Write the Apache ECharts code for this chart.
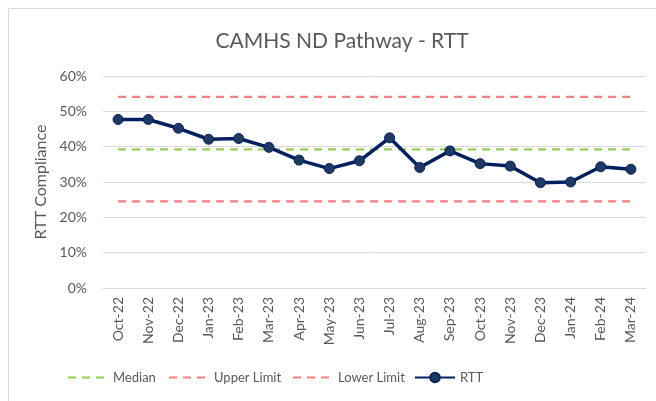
<!DOCTYPE html>
<html>
<head>
<meta charset="utf-8">
<script src="https://cdn.jsdelivr.net/npm/echarts@6/dist/echarts.min.js"></script>
<style>html,body{margin:0;padding:0;background:#fff}#c{width:656px;height:401px}</style>
</head>
<body>
<div id="c"></div>
<script>
const categories = ['Oct-22','Nov-22','Dec-22','Jan-23','Feb-23','Mar-23','Apr-23','May-23','Jun-23','Jul-23','Aug-23','Sep-23','Oct-23','Nov-23','Dec-23','Jan-24','Feb-24','Mar-24'];
const rtt = [47.7, 47.7, 45.2, 42.1, 42.3, 39.8, 36.2, 33.8, 36.0, 42.5, 34.1, 38.8, 35.2, 34.5, 29.8, 30.0, 34.3, 33.6];
const median = [39.2,39.2,39.2,39.2,39.2,39.2,39.2,39.2,39.2,39.2,39.2,39.2,39.2,39.2,39.2,39.2,39.2,39.2];
const upperLimit = [54.1,54.1,54.1,54.1,54.1,54.1,54.1,54.1,54.1,54.1,54.1,54.1,54.1,54.1,54.1,54.1,54.1,54.1];
const lowerLimit = [24.5,24.5,24.5,24.5,24.5,24.5,24.5,24.5,24.5,24.5,24.5,24.5,24.5,24.5,24.5,24.5,24.5,24.5];
const yTicks = [0, 10, 20, 30, 40, 50, 60];

const FONT = 'Lato, "Open Sans", sans-serif';
const TXT = '#595959';
const chart = echarts.init(document.getElementById('c'), null, {renderer: 'canvas'});

function legendAt(name, left, hideSymbol) {
  const l = {
    data: [name], left: left, top: 366, itemWidth: 40, itemHeight: 12,
    textStyle: {fontFamily: FONT, fontSize: 13, color: TXT}, itemGap: 0
  };
  if (hideSymbol) l.itemStyle = {opacity: 0};
  return l;
}

chart.setOption({
  animation: false,
  graphic: [{type: 'rect', shape: {x: 8.5, y: 8.5, width: 700, height: 500}, style: {fill: 'none', stroke: '#d9d9d9', lineWidth: 1}, silent: true}],
  title: {
    text: 'CAMHS ND Pathway - RTT', left: 337, top: 26, textAlign: 'center',
    textStyle: {fontFamily: FONT, fontSize: 21, fontWeight: 'normal', color: TXT}
  },
  legend: [legendAt('Median', 62, true), legendAt('Upper Limit', 163, true), legendAt('Lower Limit', 287, true), legendAt('RTT', 409, false)],
  grid: {left: 103, right: 10, top: 76, bottom: 113},
  xAxis: {
    type: 'category', data: categories, boundaryGap: true,
    axisLine: {show: true, lineStyle: {color: '#d9d9d9', width: 1}},
    axisTick: {show: false},
    axisLabel: {rotate: 90, interval: 0, margin: 9, fontFamily: FONT, fontSize: 14, color: TXT}
  },
  yAxis: {
    type: 'value', min: yTicks[0], max: yTicks[yTicks.length - 1], interval: 10,
    name: 'RTT Compliance', nameLocation: 'middle', nameGap: 53, nameRotate: 90,
    nameTextStyle: {fontFamily: FONT, fontSize: 16, color: TXT},
    axisLine: {show: false}, axisTick: {show: false},
    axisLabel: {formatter: '{value}%', margin: 16, fontFamily: FONT, fontSize: 14, color: TXT},
    splitLine: {lineStyle: {color: '#d9d9d9', width: 1}}
  },
  series: [
    {name: 'Median', type: 'line', data: median, symbol: 'none', z: 2,
     lineStyle: {color: '#92d050', width: 2.25, type: [8, 6]}, itemStyle: {color: '#92d050'}},
    {name: 'Upper Limit', type: 'line', data: upperLimit, symbol: 'none', z: 2,
     lineStyle: {color: '#ff7c80', width: 2.25, type: [8, 6]}, itemStyle: {color: '#ff7c80'}},
    {name: 'Lower Limit', type: 'line', data: lowerLimit, symbol: 'none', z: 2,
     lineStyle: {color: '#ff7c80', width: 2.25, type: [8, 6]}, itemStyle: {color: '#ff7c80'}},
    {name: 'RTT', type: 'line', data: rtt, symbol: 'circle', symbolSize: 10, z: 3,
     lineStyle: {color: '#002060', width: 3.5}, itemStyle: {color: '#1f3864', borderColor: '#002060', borderWidth: 1}}
  ]
});
</script>
</body>
</html>
